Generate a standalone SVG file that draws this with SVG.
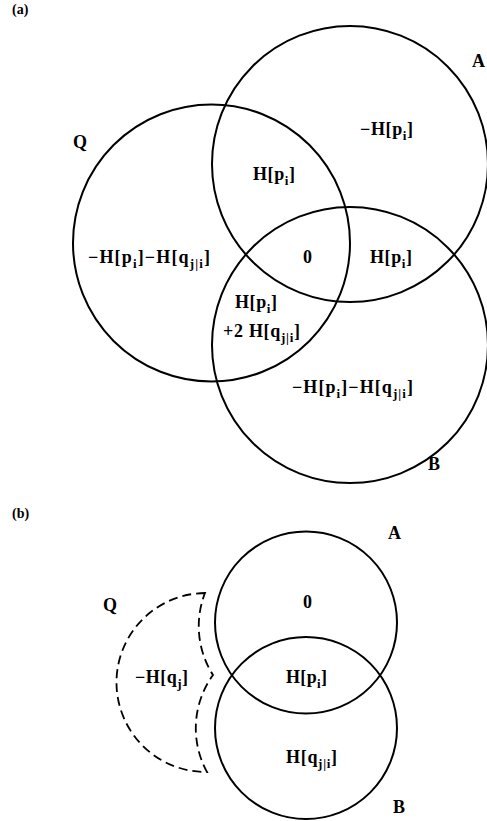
<svg xmlns="http://www.w3.org/2000/svg" width="487" height="821" viewBox="0 0 487 821">
<style>
.c{fill:none;stroke:#000;stroke-width:2}
.d{fill:none;stroke:#000;stroke-width:1.8;stroke-dasharray:9 5}
text{font-family:"Liberation Serif","Times New Roman",serif;font-weight:bold;font-size:18px;fill:#000}
.s{font-size:13px}
.p{font-size:14px}
</style>
<rect width="487" height="821" fill="#fff"/>
<g id="panel-a">
<text class="p" x="12" y="14">(a)</text>
<g id="circleA"><circle class="c" cx="350" cy="164" r="138"/><text x="472" y="67">A</text></g>
<g id="circleQ"><circle class="c" cx="211.5" cy="243" r="138.5"/><text x="73" y="148">Q</text></g>
<g id="circleB"><circle class="c" cx="350" cy="345" r="138"/><text x="428" y="470">B</text></g>
<g id="labels-a">
<text x="360" y="135" textLength="53">−H[p<tspan class="s" dy="5">i</tspan><tspan dy="-5">]</tspan></text>
<text x="253" y="180" textLength="42">H[p<tspan class="s" dy="5">i</tspan><tspan dy="-5">]</tspan></text>
<text x="88" y="263" textLength="122">−H[p<tspan class="s" dy="5">i</tspan><tspan dy="-5">]−H[q</tspan><tspan class="s" dy="5">j|i</tspan><tspan dy="-5">]</tspan></text>
<text x="303" y="263">0</text>
<text x="370" y="263" textLength="42">H[p<tspan class="s" dy="5">i</tspan><tspan dy="-5">]</tspan></text>
<text x="235" y="308" textLength="42">H[p<tspan class="s" dy="5">i</tspan><tspan dy="-5">]</tspan></text>
<text x="223" y="337" textLength="77">+2 H[q<tspan class="s" dy="5">j|i</tspan><tspan dy="-5">]</tspan></text>
<text x="292" y="393" textLength="121">−H[p<tspan class="s" dy="5">i</tspan><tspan dy="-5">]−H[q</tspan><tspan class="s" dy="5">j|i</tspan><tspan dy="-5">]</tspan></text>
</g>
</g>
<g id="panel-b">
<text class="p" x="12" y="518">(b)</text>
<g id="circleA-b"><circle class="c" cx="306" cy="622.5" r="91"/><text x="388" y="539">A</text></g>
<g id="circleB-b"><circle class="c" cx="306" cy="728" r="91"/><text x="393" y="813">B</text></g>
<g id="regionQ-b"><path class="d" d="M205,593 A89.5 89.5 0 0 0 207,772 A91 91 0 0 1 213,675 A91 91 0 0 1 205,593 Z"/><text x="103" y="611">Q</text></g>
<g id="labels-b">
<text x="303" y="608">0</text>
<text x="135" y="683" textLength="53">−H[q<tspan class="s" dy="5">j</tspan><tspan dy="-5">]</tspan></text>
<text x="286" y="683" textLength="41">H[p<tspan class="s" dy="5">i</tspan><tspan dy="-5">]</tspan></text>
<text x="286" y="763" textLength="51">H[q<tspan class="s" dy="5">j|i</tspan><tspan dy="-5">]</tspan></text>
</g>
</g>
</svg>
